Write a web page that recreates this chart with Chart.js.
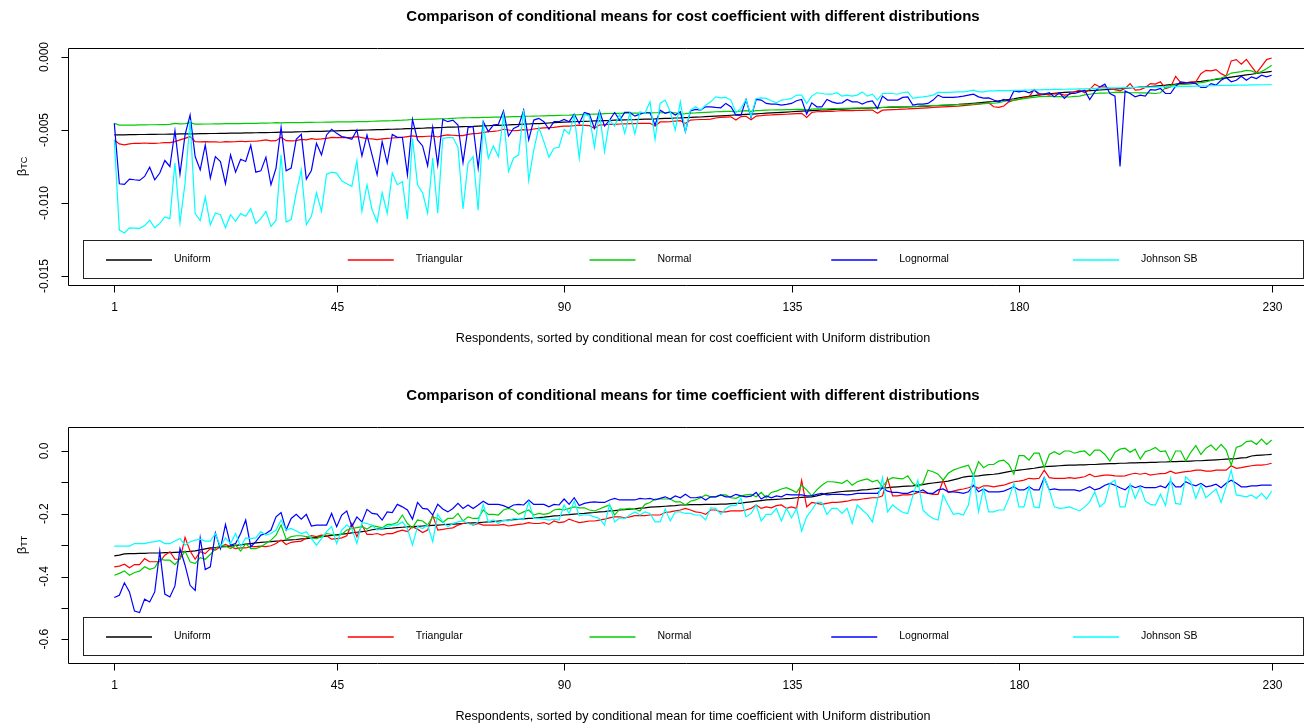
<!DOCTYPE html>
<html>
<head>
<meta charset="utf-8">
<title>Conditional means comparison</title>
<script src="https://cdn.jsdelivr.net/npm/chart.js@4.4.0/dist/chart.umd.min.js"></script>
<style>
  html, body { margin: 0; padding: 0; background: #fff; overflow: hidden; }
  .panel { position: relative; width: 1304px; height: 364px; }
</style>
</head>
<body>
<div class="panel"><canvas id="costChart" width="1304" height="364"></canvas></div>
<div class="panel"><canvas id="timeChart" width="1304" height="364"></canvas></div>
<script>
// respondents 1..230, sorted by the Uniform conditional mean
const respondents = Array.from({ length: 230 }, (_, k) => k + 1);
const seriesNames = ["Uniform", "Triangular", "Normal", "Lognormal", "Johnson SB"];
const seriesColors = ["#000000", "#FF0000", "#00CD00", "#0000FF", "#00FFFF"];
const xTicks = [1, 45, 90, 135, 180, 230];
const costTicks = [-0.015, -0.010, -0.005, 0];
const timeTicks = [-0.6, -0.5, -0.4, -0.3, -0.2, -0.1, 0];
const timeTickLabels = [-0.6, -0.4, -0.2, 0];

// ---- cost coefficient (beta_TC) ----
const uniformTC = [
  -0.00534,-0.00533,-0.00533,-0.00532,-0.00532,-0.00531,-0.00531,-0.00530,-0.00530,-0.00529,
  -0.00529,-0.00528,-0.00528,-0.00527,-0.00527,-0.00526,-0.00526,-0.00525,-0.00525,-0.00524,
  -0.00524,-0.00523,-0.00523,-0.00522,-0.00521,-0.00521,-0.00520,-0.00520,-0.00519,-0.00518,
  -0.00518,-0.00517,-0.00516,-0.00515,-0.00515,-0.00514,-0.00513,-0.00512,-0.00511,-0.00510,
  -0.00510,-0.00509,-0.00508,-0.00507,-0.00506,-0.00505,-0.00504,-0.00503,-0.00502,-0.00501,
  -0.00500,-0.00499,-0.00498,-0.00497,-0.00496,-0.00495,-0.00494,-0.00493,-0.00491,-0.00490,
  -0.00489,-0.00488,-0.00486,-0.00485,-0.00484,-0.00483,-0.00481,-0.00480,-0.00479,-0.00477,
  -0.00476,-0.00475,-0.00473,-0.00472,-0.00471,-0.00469,-0.00468,-0.00466,-0.00465,-0.00463,
  -0.00462,-0.00460,-0.00459,-0.00457,-0.00456,-0.00454,-0.00452,-0.00450,-0.00448,-0.00446,
  -0.00445,-0.00443,-0.00442,-0.00441,-0.00440,-0.00438,-0.00437,-0.00436,-0.00435,-0.00433,
  -0.00432,-0.00431,-0.00430,-0.00429,-0.00427,-0.00426,-0.00425,-0.00424,-0.00422,-0.00421,
  -0.00420,-0.00418,-0.00417,-0.00415,-0.00414,-0.00412,-0.00411,-0.00409,-0.00407,-0.00405,
  -0.00403,-0.00401,-0.00399,-0.00397,-0.00395,-0.00393,-0.00391,-0.00389,-0.00387,-0.00385,
  -0.00383,-0.00381,-0.00379,-0.00377,-0.00375,-0.00373,-0.00371,-0.00369,-0.00367,-0.00365,
  -0.00363,-0.00362,-0.00360,-0.00358,-0.00357,-0.00355,-0.00354,-0.00352,-0.00351,-0.00350,
  -0.00348,-0.00347,-0.00346,-0.00345,-0.00344,-0.00343,-0.00342,-0.00341,-0.00340,-0.00339,
  -0.00337,-0.00336,-0.00334,-0.00333,-0.00331,-0.00329,-0.00327,-0.00325,-0.00322,-0.00320,
  -0.00317,-0.00314,-0.00311,-0.00308,-0.00305,-0.00301,-0.00296,-0.00291,-0.00286,-0.00280,
  -0.00275,-0.00270,-0.00265,-0.00260,-0.00256,-0.00252,-0.00249,-0.00246,-0.00243,-0.00240,
  -0.00238,-0.00235,-0.00233,-0.00230,-0.00228,-0.00226,-0.00224,-0.00221,-0.00219,-0.00216,
  -0.00214,-0.00212,-0.00209,-0.00207,-0.00205,-0.00202,-0.00199,-0.00196,-0.00193,-0.00189,
  -0.00186,-0.00182,-0.00179,-0.00175,-0.00171,-0.00167,-0.00162,-0.00158,-0.00153,-0.00148,
  -0.00143,-0.00138,-0.00133,-0.00128,-0.00123,-0.00118,-0.00113,-0.00108,-0.00103,-0.00098
];
const triangularTC = [
  -0.00568,-0.00595,-0.00602,-0.00595,-0.00591,-0.00591,-0.00589,-0.00591,-0.00591,-0.00589,
  -0.00586,-0.00586,-0.00580,-0.00568,-0.00557,-0.00545,-0.00580,-0.00582,-0.00580,-0.00582,
  -0.00582,-0.00584,-0.00580,-0.00582,-0.00580,-0.00577,-0.00580,-0.00577,-0.00577,-0.00573,
  -0.00568,-0.00575,-0.00573,-0.00550,-0.00573,-0.00575,-0.00573,-0.00564,-0.00568,-0.00559,
  -0.00564,-0.00561,-0.00557,-0.00550,-0.00552,-0.00550,-0.00552,-0.00550,-0.00545,-0.00552,
  -0.00559,-0.00561,-0.00566,-0.00561,-0.00557,-0.00555,-0.00552,-0.00550,-0.00545,-0.00541,
  -0.00545,-0.00545,-0.00543,-0.00541,-0.00548,-0.00539,-0.00534,-0.00536,-0.00538,-0.00539,
  -0.00530,-0.00525,-0.00523,-0.00518,-0.00511,-0.00509,-0.00505,-0.00495,-0.00500,-0.00505,
  -0.00502,-0.00498,-0.00500,-0.00493,-0.00489,-0.00486,-0.00484,-0.00482,-0.00477,-0.00473,
  -0.00473,-0.00470,-0.00466,-0.00468,-0.00470,-0.00489,-0.00466,-0.00464,-0.00462,-0.00461,
  -0.00459,-0.00458,-0.00457,-0.00456,-0.00455,-0.00455,-0.00454,-0.00473,-0.00445,-0.00445,
  -0.00443,-0.00439,-0.00436,-0.00455,-0.00432,-0.00430,-0.00428,-0.00428,-0.00425,-0.00418,
  -0.00414,-0.00412,-0.00410,-0.00432,-0.00408,-0.00406,-0.00430,-0.00405,-0.00402,-0.00398,
  -0.00397,-0.00395,-0.00393,-0.00392,-0.00390,-0.00388,-0.00386,-0.00414,-0.00380,-0.00375,
  -0.00374,-0.00373,-0.00372,-0.00370,-0.00368,-0.00368,-0.00367,-0.00366,-0.00365,-0.00364,
  -0.00363,-0.00386,-0.00364,-0.00362,-0.00360,-0.00359,-0.00357,-0.00356,-0.00354,-0.00352,
  -0.00350,-0.00348,-0.00346,-0.00344,-0.00342,-0.00340,-0.00338,-0.00336,-0.00333,-0.00330,
  -0.00327,-0.00323,-0.00318,-0.00314,-0.00341,-0.00345,-0.00336,-0.00307,-0.00295,-0.00291,
  -0.00277,-0.00273,-0.00223,-0.00261,-0.00252,-0.00261,-0.00252,-0.00252,-0.00261,-0.00257,
  -0.00239,-0.00227,-0.00245,-0.00223,-0.00186,-0.00205,-0.00205,-0.00216,-0.00223,-0.00232,
  -0.00216,-0.00182,-0.00227,-0.00223,-0.00209,-0.00182,-0.00186,-0.00170,-0.00216,-0.00205,
  -0.00132,-0.00175,-0.00177,-0.00170,-0.00170,-0.00114,-0.00091,-0.00095,-0.00086,-0.00114,
  -0.00132,-0.00027,-0.00018,-0.00050,-0.00016,-0.00064,-0.00109,-0.00064,-0.00018,-0.00007
];
const normalTC = [
  -0.00455,-0.00466,-0.00467,-0.00466,-0.00466,-0.00465,-0.00465,-0.00464,-0.00464,-0.00463,
  -0.00463,-0.00462,-0.00455,-0.00458,-0.00456,-0.00450,-0.00460,-0.00460,-0.00459,-0.00459,
  -0.00458,-0.00458,-0.00457,-0.00457,-0.00456,-0.00456,-0.00455,-0.00455,-0.00454,-0.00453,
  -0.00453,-0.00452,-0.00450,-0.00451,-0.00450,-0.00450,-0.00449,-0.00449,-0.00448,-0.00448,
  -0.00447,-0.00447,-0.00446,-0.00446,-0.00445,-0.00445,-0.00444,-0.00444,-0.00443,-0.00442,
  -0.00442,-0.00440,-0.00439,-0.00438,-0.00437,-0.00436,-0.00434,-0.00433,-0.00431,-0.00428,
  -0.00428,-0.00427,-0.00426,-0.00425,-0.00424,-0.00423,-0.00422,-0.00420,-0.00418,-0.00417,
  -0.00416,-0.00415,-0.00415,-0.00414,-0.00413,-0.00412,-0.00412,-0.00411,-0.00410,-0.00409,
  -0.00408,-0.00407,-0.00406,-0.00405,-0.00404,-0.00403,-0.00402,-0.00401,-0.00400,-0.00399,
  -0.00398,-0.00396,-0.00395,-0.00393,-0.00392,-0.00391,-0.00390,-0.00388,-0.00387,-0.00386,
  -0.00386,-0.00385,-0.00385,-0.00384,-0.00384,-0.00383,-0.00383,-0.00382,-0.00382,-0.00382,
  -0.00382,-0.00382,-0.00391,-0.00388,-0.00384,-0.00383,-0.00381,-0.00379,-0.00377,-0.00375,
  -0.00374,-0.00373,-0.00372,-0.00375,-0.00370,-0.00368,-0.00372,-0.00367,-0.00366,-0.00364,
  -0.00363,-0.00362,-0.00362,-0.00361,-0.00360,-0.00359,-0.00358,-0.00362,-0.00357,-0.00356,
  -0.00355,-0.00355,-0.00354,-0.00353,-0.00352,-0.00351,-0.00350,-0.00350,-0.00349,-0.00348,
  -0.00347,-0.00350,-0.00345,-0.00344,-0.00342,-0.00341,-0.00340,-0.00339,-0.00338,-0.00337,
  -0.00335,-0.00334,-0.00333,-0.00332,-0.00330,-0.00329,-0.00328,-0.00326,-0.00325,-0.00324,
  -0.00322,-0.00321,-0.00319,-0.00318,-0.00317,-0.00312,-0.00305,-0.00298,-0.00295,-0.00290,
  -0.00285,-0.00280,-0.00276,-0.00272,-0.00270,-0.00269,-0.00271,-0.00272,-0.00273,-0.00274,
  -0.00270,-0.00268,-0.00260,-0.00255,-0.00250,-0.00248,-0.00247,-0.00245,-0.00242,-0.00240,
  -0.00242,-0.00244,-0.00245,-0.00246,-0.00245,-0.00247,-0.00250,-0.00245,-0.00210,-0.00195,
  -0.00192,-0.00190,-0.00188,-0.00184,-0.00180,-0.00176,-0.00170,-0.00160,-0.00150,-0.00145,
  -0.00130,-0.00110,-0.00105,-0.00100,-0.00092,-0.00095,-0.00110,-0.00100,-0.00080,-0.00057
];
const lognormalTC = [
  -0.00455,-0.00868,-0.00873,-0.00836,-0.00841,-0.00845,-0.00818,-0.00755,-0.00841,-0.00795,
  -0.00709,-0.00750,-0.00505,-0.00802,-0.00534,-0.00398,-0.00682,-0.00773,-0.00602,-0.00830,
  -0.00682,-0.00716,-0.00868,-0.00670,-0.00789,-0.00700,-0.00716,-0.00605,-0.00789,-0.00780,
  -0.00686,-0.00875,-0.00761,-0.00482,-0.00780,-0.00761,-0.00564,-0.00530,-0.00836,-0.00777,
  -0.00591,-0.00670,-0.00534,-0.00495,-0.00523,-0.00545,-0.00552,-0.00564,-0.00500,-0.00677,
  -0.00534,-0.00670,-0.00807,-0.00580,-0.00727,-0.00530,-0.00550,-0.00550,-0.00807,-0.00427,
  -0.00568,-0.00609,-0.00745,-0.00482,-0.00739,-0.00427,-0.00443,-0.00432,-0.00466,-0.00723,
  -0.00482,-0.00477,-0.00761,-0.00443,-0.00511,-0.00466,-0.00461,-0.00370,-0.00541,-0.00489,
  -0.00473,-0.00364,-0.00568,-0.00432,-0.00420,-0.00443,-0.00495,-0.00443,-0.00443,-0.00427,
  -0.00443,-0.00391,-0.00455,-0.00380,-0.00391,-0.00489,-0.00370,-0.00473,-0.00432,-0.00380,
  -0.00432,-0.00380,-0.00380,-0.00405,-0.00391,-0.00382,-0.00382,-0.00466,-0.00364,-0.00386,
  -0.00375,-0.00398,-0.00375,-0.00511,-0.00370,-0.00359,-0.00364,-0.00341,-0.00341,-0.00345,
  -0.00348,-0.00318,-0.00341,-0.00398,-0.00398,-0.00291,-0.00414,-0.00291,-0.00295,-0.00318,
  -0.00323,-0.00323,-0.00330,-0.00325,-0.00318,-0.00300,-0.00291,-0.00391,-0.00314,-0.00341,
  -0.00341,-0.00291,-0.00307,-0.00318,-0.00314,-0.00291,-0.00307,-0.00307,-0.00323,-0.00307,
  -0.00300,-0.00352,-0.00268,-0.00295,-0.00295,-0.00295,-0.00277,-0.00273,-0.00330,-0.00323,
  -0.00323,-0.00318,-0.00295,-0.00261,-0.00277,-0.00277,-0.00277,-0.00273,-0.00268,-0.00261,
  -0.00255,-0.00273,-0.00282,-0.00280,-0.00295,-0.00307,-0.00291,-0.00302,-0.00232,-0.00239,
  -0.00232,-0.00245,-0.00227,-0.00250,-0.00255,-0.00245,-0.00273,-0.00245,-0.00284,-0.00250,
  -0.00250,-0.00239,-0.00227,-0.00291,-0.00239,-0.00205,-0.00186,-0.00250,-0.00268,-0.00750,
  -0.00232,-0.00250,-0.00273,-0.00261,-0.00268,-0.00223,-0.00227,-0.00216,-0.00250,-0.00250,
  -0.00200,-0.00170,-0.00175,-0.00177,-0.00182,-0.00209,-0.00209,-0.00182,-0.00193,-0.00159,
  -0.00141,-0.00170,-0.00159,-0.00132,-0.00159,-0.00136,-0.00148,-0.00125,-0.00136,-0.00125
];
const johnsonTC = [
  -0.00568,-0.01186,-0.01205,-0.01170,-0.01172,-0.01174,-0.01155,-0.01118,-0.01170,-0.01140,
  -0.01095,-0.01107,-0.00727,-0.01136,-0.00864,-0.00432,-0.01073,-0.01120,-0.00959,-0.01150,
  -0.01068,-0.01080,-0.01170,-0.01080,-0.01125,-0.01073,-0.01091,-0.01039,-0.01140,-0.01107,
  -0.01057,-0.01160,-0.01120,-0.00670,-0.01130,-0.01114,-0.00930,-0.00773,-0.01148,-0.01091,
  -0.00930,-0.01057,-0.00802,-0.00789,-0.00795,-0.00848,-0.00868,-0.00886,-0.00709,-0.01057,
  -0.00875,-0.01045,-0.01130,-0.00930,-0.01070,-0.00795,-0.00875,-0.00855,-0.01110,-0.00557,
  -0.00875,-0.00930,-0.01070,-0.00693,-0.01070,-0.00557,-0.00552,-0.00552,-0.00618,-0.01040,
  -0.00727,-0.00682,-0.01050,-0.00461,-0.00693,-0.00609,-0.00682,-0.00398,-0.00784,-0.00693,
  -0.00670,-0.00364,-0.00845,-0.00636,-0.00482,-0.00580,-0.00686,-0.00625,-0.00618,-0.00495,
  -0.00527,-0.00398,-0.00693,-0.00391,-0.00405,-0.00618,-0.00382,-0.00648,-0.00432,-0.00473,
  -0.00391,-0.00523,-0.00386,-0.00527,-0.00375,-0.00386,-0.00307,-0.00564,-0.00318,-0.00295,
  -0.00375,-0.00500,-0.00307,-0.00511,-0.00364,-0.00341,-0.00364,-0.00330,-0.00307,-0.00273,
  -0.00280,-0.00277,-0.00295,-0.00382,-0.00352,-0.00291,-0.00409,-0.00284,-0.00280,-0.00284,
  -0.00300,-0.00314,-0.00295,-0.00291,-0.00284,-0.00261,-0.00261,-0.00318,-0.00268,-0.00245,
  -0.00250,-0.00255,-0.00255,-0.00245,-0.00268,-0.00261,-0.00268,-0.00261,-0.00239,-0.00268,
  -0.00255,-0.00295,-0.00250,-0.00250,-0.00250,-0.00255,-0.00245,-0.00239,-0.00284,-0.00277,
  -0.00273,-0.00268,-0.00261,-0.00243,-0.00243,-0.00243,-0.00241,-0.00239,-0.00239,-0.00234,
  -0.00227,-0.00239,-0.00239,-0.00232,-0.00232,-0.00230,-0.00230,-0.00230,-0.00228,-0.00228,
  -0.00227,-0.00226,-0.00225,-0.00225,-0.00224,-0.00223,-0.00222,-0.00222,-0.00221,-0.00220,
  -0.00220,-0.00218,-0.00219,-0.00216,-0.00215,-0.00214,-0.00213,-0.00212,-0.00212,-0.00211,
  -0.00210,-0.00210,-0.00209,-0.00208,-0.00208,-0.00207,-0.00206,-0.00205,-0.00204,-0.00204,
  -0.00203,-0.00202,-0.00202,-0.00201,-0.00200,-0.00199,-0.00198,-0.00197,-0.00196,-0.00195,
  -0.00195,-0.00194,-0.00193,-0.00193,-0.00192,-0.00191,-0.00191,-0.00190,-0.00190,-0.00189
];

// ---- time coefficient (beta_TT) ----
const uniformTT = [
  -0.334,-0.332,-0.328,-0.327,-0.327,-0.326,-0.326,-0.325,-0.325,-0.325,
  -0.324,-0.324,-0.323,-0.322,-0.321,-0.320,-0.318,-0.315,-0.312,-0.309,
  -0.308,-0.306,-0.305,-0.303,-0.301,-0.299,-0.297,-0.295,-0.293,-0.291,
  -0.290,-0.289,-0.287,-0.286,-0.284,-0.283,-0.282,-0.280,-0.279,-0.277,
  -0.275,-0.273,-0.271,-0.269,-0.267,-0.265,-0.263,-0.261,-0.259,-0.257,
  -0.255,-0.251,-0.249,-0.248,-0.247,-0.246,-0.244,-0.243,-0.242,-0.241,
  -0.240,-0.239,-0.238,-0.237,-0.236,-0.235,-0.234,-0.233,-0.232,-0.231,
  -0.230,-0.229,-0.228,-0.227,-0.226,-0.225,-0.223,-0.222,-0.220,-0.219,
  -0.218,-0.216,-0.215,-0.214,-0.212,-0.211,-0.209,-0.207,-0.206,-0.204,
  -0.203,-0.201,-0.200,-0.199,-0.197,-0.196,-0.194,-0.193,-0.191,-0.190,
  -0.188,-0.187,-0.185,-0.184,-0.182,-0.181,-0.179,-0.178,-0.177,-0.176,
  -0.175,-0.174,-0.172,-0.172,-0.171,-0.171,-0.171,-0.170,-0.170,-0.170,
  -0.169,-0.169,-0.168,-0.167,-0.166,-0.164,-0.162,-0.160,-0.158,-0.156,
  -0.155,-0.154,-0.153,-0.152,-0.151,-0.149,-0.148,-0.147,-0.146,-0.143,
  -0.139,-0.135,-0.133,-0.131,-0.129,-0.128,-0.127,-0.126,-0.124,-0.123,
  -0.121,-0.119,-0.118,-0.117,-0.115,-0.114,-0.113,-0.112,-0.111,-0.109,
  -0.107,-0.104,-0.102,-0.100,-0.098,-0.096,-0.092,-0.088,-0.083,-0.081,
  -0.080,-0.079,-0.077,-0.075,-0.074,-0.072,-0.069,-0.066,-0.063,-0.061,
  -0.059,-0.057,-0.055,-0.052,-0.050,-0.049,-0.048,-0.047,-0.046,-0.045,
  -0.045,-0.044,-0.044,-0.043,-0.043,-0.042,-0.041,-0.040,-0.040,-0.039,
  -0.039,-0.038,-0.038,-0.037,-0.037,-0.036,-0.036,-0.035,-0.035,-0.034,
  -0.034,-0.033,-0.033,-0.032,-0.031,-0.031,-0.030,-0.029,-0.028,-0.027,
  -0.026,-0.025,-0.024,-0.022,-0.021,-0.016,-0.014,-0.013,-0.012,-0.011
];
const triangularTT = [
  -0.369,-0.367,-0.361,-0.372,-0.362,-0.362,-0.343,-0.353,-0.353,-0.353,
  -0.332,-0.321,-0.345,-0.345,-0.275,-0.319,-0.345,-0.321,-0.327,-0.311,
  -0.316,-0.305,-0.298,-0.305,-0.311,-0.309,-0.309,-0.305,-0.305,-0.303,
  -0.305,-0.302,-0.295,-0.284,-0.298,-0.291,-0.289,-0.287,-0.277,-0.270,
  -0.273,-0.268,-0.270,-0.281,-0.279,-0.277,-0.270,-0.231,-0.273,-0.236,
  -0.266,-0.266,-0.263,-0.268,-0.263,-0.263,-0.257,-0.252,-0.257,-0.241,
  -0.249,-0.260,-0.252,-0.204,-0.252,-0.250,-0.247,-0.245,-0.236,-0.231,
  -0.228,-0.236,-0.231,-0.236,-0.236,-0.236,-0.236,-0.234,-0.239,-0.236,
  -0.234,-0.232,-0.228,-0.231,-0.231,-0.228,-0.234,-0.223,-0.228,-0.226,
  -0.217,-0.223,-0.228,-0.226,-0.223,-0.223,-0.220,-0.217,-0.213,-0.210,
  -0.210,-0.213,-0.210,-0.206,-0.206,-0.206,-0.204,-0.204,-0.204,-0.196,
  -0.194,-0.191,-0.188,-0.183,-0.188,-0.194,-0.196,-0.202,-0.188,-0.188,
  -0.194,-0.194,-0.191,-0.191,-0.191,-0.188,-0.183,-0.172,-0.183,-0.178,
  -0.181,-0.174,-0.172,-0.183,-0.178,-0.183,-0.093,-0.178,-0.164,-0.167,
  -0.170,-0.167,-0.164,-0.164,-0.162,-0.160,-0.156,-0.156,-0.153,-0.151,
  -0.149,-0.149,-0.143,-0.087,-0.143,-0.143,-0.140,-0.140,-0.138,-0.132,
  -0.132,-0.135,-0.138,-0.138,-0.093,-0.132,-0.128,-0.124,-0.121,-0.117,
  -0.111,-0.119,-0.111,-0.111,-0.114,-0.111,-0.109,-0.103,-0.098,-0.096,
  -0.093,-0.087,-0.089,-0.087,-0.061,-0.085,-0.087,-0.087,-0.087,-0.085,
  -0.087,-0.085,-0.082,-0.074,-0.082,-0.079,-0.077,-0.077,-0.079,-0.080,
  -0.079,-0.074,-0.071,-0.074,-0.071,-0.077,-0.074,-0.072,-0.071,-0.064,
  -0.071,-0.068,-0.066,-0.064,-0.061,-0.061,-0.064,-0.064,-0.061,-0.061,
  -0.061,-0.047,-0.055,-0.053,-0.050,-0.047,-0.045,-0.045,-0.043,-0.039
];
const normalTT = [
  -0.396,-0.390,-0.382,-0.396,-0.387,-0.383,-0.369,-0.377,-0.372,-0.345,
  -0.348,-0.348,-0.362,-0.343,-0.319,-0.353,-0.359,-0.340,-0.345,-0.330,
  -0.311,-0.300,-0.303,-0.311,-0.300,-0.319,-0.295,-0.311,-0.311,-0.305,
  -0.295,-0.284,-0.268,-0.236,-0.281,-0.273,-0.270,-0.270,-0.273,-0.277,
  -0.279,-0.273,-0.263,-0.266,-0.270,-0.266,-0.252,-0.247,-0.244,-0.241,
  -0.249,-0.238,-0.241,-0.245,-0.234,-0.234,-0.228,-0.204,-0.231,-0.245,
  -0.220,-0.223,-0.236,-0.210,-0.215,-0.228,-0.215,-0.215,-0.199,-0.223,
  -0.210,-0.215,-0.215,-0.188,-0.202,-0.202,-0.204,-0.188,-0.183,-0.188,
  -0.202,-0.194,-0.188,-0.204,-0.199,-0.202,-0.199,-0.188,-0.185,-0.188,
  -0.183,-0.178,-0.181,-0.181,-0.188,-0.191,-0.185,-0.178,-0.172,-0.204,
  -0.185,-0.185,-0.183,-0.185,-0.191,-0.170,-0.164,-0.153,-0.153,-0.153,
  -0.153,-0.162,-0.162,-0.172,-0.160,-0.156,-0.149,-0.140,-0.146,-0.146,
  -0.140,-0.140,-0.149,-0.151,-0.143,-0.140,-0.138,-0.146,-0.132,-0.149,
  -0.132,-0.128,-0.121,-0.117,-0.124,-0.132,-0.109,-0.124,-0.143,-0.124,
  -0.109,-0.098,-0.098,-0.100,-0.103,-0.093,-0.109,-0.098,-0.093,-0.089,
  -0.098,-0.093,-0.114,-0.093,-0.085,-0.087,-0.089,-0.079,-0.103,-0.114,
  -0.103,-0.061,-0.066,-0.074,-0.093,-0.071,-0.061,-0.055,-0.050,-0.045,
  -0.079,-0.034,-0.053,-0.043,-0.043,-0.032,-0.029,-0.043,-0.074,-0.015,
  -0.015,-0.029,-0.007,-0.007,-0.053,-0.011,-0.002,-0.011,0.000,0.000,
  -0.007,-0.002,0.000,-0.015,0.003,0.003,-0.011,-0.032,-0.004,0.006,
  0.009,-0.004,0.006,-0.026,-0.002,0.003,0.011,-0.002,0.000,-0.034,
  0.000,0.000,-0.032,-0.004,0.017,-0.011,0.009,0.019,0.003,0.021,
  0.003,-0.045,0.011,0.017,0.030,0.032,0.021,0.038,0.021,0.035
];
const lognormalTT = [
  -0.467,-0.460,-0.420,-0.449,-0.510,-0.515,-0.472,-0.481,-0.449,-0.319,
  -0.456,-0.465,-0.430,-0.311,-0.364,-0.428,-0.444,-0.277,-0.378,-0.369,
  -0.261,-0.311,-0.234,-0.300,-0.295,-0.263,-0.220,-0.305,-0.289,-0.268,
  -0.263,-0.252,-0.210,-0.196,-0.252,-0.215,-0.202,-0.217,-0.202,-0.239,
  -0.236,-0.236,-0.236,-0.199,-0.241,-0.204,-0.191,-0.241,-0.210,-0.226,
  -0.186,-0.199,-0.201,-0.220,-0.194,-0.196,-0.170,-0.178,-0.188,-0.217,
  -0.164,-0.183,-0.185,-0.204,-0.170,-0.185,-0.194,-0.183,-0.167,-0.183,
  -0.172,-0.183,-0.172,-0.160,-0.170,-0.170,-0.170,-0.174,-0.181,-0.172,
  -0.170,-0.172,-0.156,-0.170,-0.170,-0.170,-0.178,-0.170,-0.172,-0.153,
  -0.170,-0.149,-0.174,-0.167,-0.164,-0.162,-0.164,-0.164,-0.156,-0.151,
  -0.156,-0.156,-0.156,-0.156,-0.151,-0.153,-0.151,-0.156,-0.151,-0.146,
  -0.153,-0.143,-0.149,-0.138,-0.149,-0.149,-0.146,-0.156,-0.146,-0.146,
  -0.140,-0.146,-0.146,-0.138,-0.143,-0.146,-0.144,-0.132,-0.153,-0.143,
  -0.149,-0.143,-0.146,-0.138,-0.140,-0.140,-0.140,-0.143,-0.143,-0.138,
  -0.135,-0.140,-0.138,-0.138,-0.138,-0.140,-0.138,-0.135,-0.135,-0.135,
  -0.135,-0.135,-0.117,-0.128,-0.132,-0.132,-0.135,-0.135,-0.128,-0.130,
  -0.124,-0.135,-0.135,-0.124,-0.121,-0.130,-0.130,-0.132,-0.135,-0.130,
  -0.109,-0.130,-0.121,-0.130,-0.130,-0.130,-0.128,-0.121,-0.114,-0.124,
  -0.124,-0.114,-0.124,-0.124,-0.085,-0.124,-0.121,-0.124,-0.124,-0.124,
  -0.124,-0.128,-0.121,-0.114,-0.124,-0.119,-0.109,-0.103,-0.109,-0.117,
  -0.124,-0.109,-0.117,-0.111,-0.117,-0.117,-0.117,-0.111,-0.117,-0.096,
  -0.114,-0.114,-0.098,-0.106,-0.111,-0.103,-0.114,-0.111,-0.106,-0.117,
  -0.103,-0.093,-0.103,-0.114,-0.114,-0.111,-0.111,-0.109,-0.109,-0.109
];
const johnsonTT = [
  -0.303,-0.303,-0.303,-0.303,-0.295,-0.295,-0.295,-0.291,-0.289,-0.286,
  -0.295,-0.295,-0.287,-0.279,-0.300,-0.289,-0.284,-0.281,-0.287,-0.287,
  -0.263,-0.305,-0.277,-0.295,-0.263,-0.305,-0.277,-0.279,-0.277,-0.257,
  -0.268,-0.263,-0.252,-0.220,-0.252,-0.247,-0.255,-0.263,-0.257,-0.279,
  -0.300,-0.279,-0.257,-0.241,-0.295,-0.252,-0.236,-0.247,-0.295,-0.228,
  -0.231,-0.236,-0.252,-0.247,-0.241,-0.236,-0.236,-0.226,-0.247,-0.300,
  -0.241,-0.247,-0.236,-0.289,-0.202,-0.226,-0.241,-0.231,-0.226,-0.223,
  -0.231,-0.236,-0.226,-0.170,-0.226,-0.220,-0.231,-0.220,-0.223,-0.215,
  -0.217,-0.217,-0.162,-0.215,-0.215,-0.217,-0.220,-0.217,-0.220,-0.172,
  -0.199,-0.160,-0.206,-0.204,-0.204,-0.210,-0.215,-0.236,-0.170,-0.226,
  -0.213,-0.215,-0.204,-0.194,-0.204,-0.194,-0.199,-0.226,-0.226,-0.185,
  -0.223,-0.194,-0.194,-0.199,-0.199,-0.204,-0.204,-0.220,-0.181,-0.183,
  -0.202,-0.183,-0.174,-0.174,-0.151,-0.210,-0.199,-0.172,-0.223,-0.202,
  -0.202,-0.183,-0.223,-0.183,-0.213,-0.183,-0.255,-0.210,-0.188,-0.164,
  -0.164,-0.202,-0.183,-0.183,-0.199,-0.183,-0.231,-0.172,-0.188,-0.202,
  -0.226,-0.156,-0.085,-0.194,-0.172,-0.185,-0.196,-0.199,-0.143,-0.093,
  -0.188,-0.204,-0.215,-0.220,-0.140,-0.172,-0.202,-0.199,-0.204,-0.172,
  -0.077,-0.194,-0.119,-0.194,-0.194,-0.188,-0.188,-0.151,-0.103,-0.178,
  -0.178,-0.114,-0.178,-0.181,-0.085,-0.124,-0.178,-0.183,-0.181,-0.178,
  -0.185,-0.191,-0.178,-0.162,-0.130,-0.178,-0.164,-0.103,-0.093,-0.178,
  -0.178,-0.106,-0.151,-0.114,-0.160,-0.170,-0.172,-0.138,-0.174,-0.087,
  -0.167,-0.170,-0.082,-0.098,-0.151,-0.109,-0.149,-0.135,-0.121,-0.164,
  -0.114,-0.061,-0.140,-0.143,-0.146,-0.140,-0.151,-0.135,-0.153,-0.128
];

const FONT = "'Liberation Sans', Arial, Helvetica, sans-serif";

// R-style box, axes, titles and legend drawn around the chart area
function rFrame(cfg) {
  return {
    id: "rFrame",
    afterDraw(chart) {
      const { ctx, chartArea: a } = chart;
      const x = chart.scales.x, y = chart.scales.y;
      const L = Math.round(a.left) + 0.5;
      const T = Math.round(a.top) + 0.5;
      const B = Math.round(a.bottom) + 0.5;
      const cx = 693; // centre of R's plot region (its right edge is past the page)
      ctx.save();
      ctx.strokeStyle = "#000";
      ctx.fillStyle = "#000";
      ctx.lineWidth = 1;

      ctx.beginPath();
      ctx.moveTo(a.right + 5, T); ctx.lineTo(L, T); ctx.lineTo(L, B); ctx.lineTo(a.right + 5, B);
      ctx.stroke();

      // x axis
      ctx.font = "12px " + FONT;
      ctx.textAlign = "center";
      ctx.textBaseline = "middle";
      xTicks.forEach(t => {
        const px = Math.round(x.getPixelForValue(t)) + 0.5;
        ctx.beginPath(); ctx.moveTo(px, B); ctx.lineTo(px, B + 7); ctx.stroke();
        ctx.fillText(String(t), px, a.bottom + 23);
      });

      // y axis, labels rotated like R's las = 0
      cfg.yTicks.forEach(t => {
        const py = Math.round(y.getPixelForValue(t)) + 0.5;
        ctx.beginPath(); ctx.moveTo(L - 7, py); ctx.lineTo(L, py); ctx.stroke();
      });
      cfg.yLabels.forEach(t => {
        ctx.save();
        ctx.translate(a.left - 23, y.getPixelForValue(t));
        ctx.rotate(-Math.PI / 2);
        ctx.fillText(t.toFixed(cfg.digits), 0, 0);
        ctx.restore();
      });

      // y title with subscript
      ctx.save();
      ctx.translate(22, (a.top + a.bottom) / 2);
      ctx.rotate(-Math.PI / 2);
      ctx.textAlign = "left";
      ctx.font = "13px " + FONT;
      const wb = ctx.measureText("β").width;
      ctx.font = "9px " + FONT;
      const ws = ctx.measureText(cfg.sub).width;
      const x0 = -(wb + ws) / 2;
      ctx.font = "13px " + FONT;
      ctx.fillText("β", x0, 0);
      ctx.font = "9px " + FONT;
      ctx.fillText(cfg.sub, x0 + wb, 3);
      ctx.restore();

      // titles
      ctx.font = "bold 15px " + FONT;
      ctx.fillText(cfg.title, cx, a.top - 31);
      ctx.font = "12.6px " + FONT;
      ctx.fillText(cfg.xTitle, cx, a.bottom + 54);

      // legend
      const lt = Math.round(a.bottom - cfg.legendTop) + 0.5;
      const lb = Math.round(a.bottom - cfg.legendBottom) + 0.5;
      ctx.strokeStyle = "#222";
      ctx.strokeRect(83.5, lt, 1220, lb - lt);
      const ly = (lt + lb) / 2;
      ctx.font = "10.5px " + FONT;
      ctx.textAlign = "left";
      seriesNames.forEach((name, k) => {
        const lx = 106 + k * 241.75;
        const sy = Math.round(ly); // sits across two pixel rows so the colour survives
        ctx.strokeStyle = seriesColors[k];
        ctx.lineWidth = 1.6;
        ctx.beginPath(); ctx.moveTo(lx, sy); ctx.lineTo(lx + 46, sy); ctx.stroke();
        ctx.fillStyle = "#000";
        ctx.fillText(name, lx + 68, ly);
      });
      ctx.restore();
    }
  };
}

function makeChart(canvasId, series, cfg) {
  const datasets = seriesNames.map((name, k) => ({
    label: name,
    data: series[k].map((v, j) => ({ x: respondents[j], y: v })),
    borderColor: seriesColors[k],
    backgroundColor: seriesColors[k],
    borderWidth: 1.2,
    pointRadius: 0,
    tension: 0,
    fill: false,
    order: seriesNames.length - k // Johnson SB drawn last, on top
  }));
  return new Chart(document.getElementById(canvasId), {
    type: "line",
    data: { datasets },
    options: {
      responsive: false,
      animation: false,
      events: [],
      layout: { padding: cfg.padding },
      scales: {
        x: { type: "linear", min: -8.16, max: 236.4, display: false },
        y: { type: "linear", min: cfg.yMin, max: cfg.yMax, display: false }
      },
      plugins: { legend: { display: false }, tooltip: { enabled: false } }
    },
    plugins: [rFrame(cfg)]
  });
}

makeChart("costChart", [uniformTC, triangularTC, normalTC, lognormalTC, johnsonTC], {
  padding: { left: 68, right: 0, top: 48, bottom: 79 },
  yMin: -0.015617, yMax: 0.000616,
  yTicks: costTicks, yLabels: costTicks, digits: 3, sub: "TC",
  title: "Comparison of conditional means for cost coefficient with different distributions",
  xTitle: "Respondents, sorted by conditional mean for cost coefficient with Uniform distribution",
  legendTop: 45, legendBottom: 7
});

makeChart("timeChart", [uniformTT, triangularTT, normalTT, lognormalTT, johnsonTT], {
  padding: { left: 68, right: 0, top: 63, bottom: 65 },
  yMin: -0.6756, yMax: 0.0765,
  yTicks: timeTicks, yLabels: timeTickLabels, digits: 1, sub: "TT",
  title: "Comparison of conditional means for time coefficient with different distributions",
  xTitle: "Respondents, sorted by conditional mean for time coefficient with Uniform distribution",
  legendTop: 46, legendBottom: 8
});
</script>
</body>
</html>
